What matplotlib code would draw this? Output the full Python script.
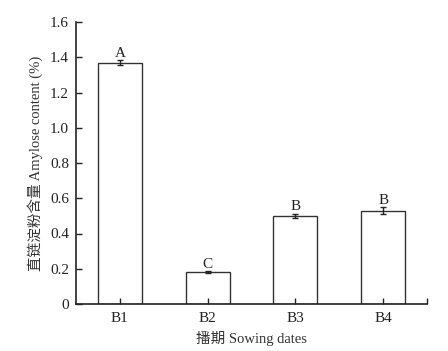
import matplotlib
matplotlib.use("Agg")
import matplotlib.pyplot as plt

categories = ["B1", "B2", "B3", "B4"]
values = [1.37, 0.18, 0.50, 0.53]
errors = [0.012, 0.006, 0.012, 0.018]
letters = ["A", "C", "B", "B"]
yticks = [0, 0.2, 0.4, 0.6, 0.8, 1.0, 1.2, 1.4, 1.6]
ytick_labels = ["0", "0.2", "0.4", "0.6", "0.8", "1.0", "1.2", "1.4", "1.6"]

plt.rcParams['font.family'] = ['Liberation Serif', 'Noto Sans CJK SC']
plt.rcParams['font.size'] = 10

fig = plt.figure(figsize=(4.48, 3.51), dpi=100)
ax = fig.add_axes([76/448, 47/351, 351/448, 282/351])

x = list(range(len(categories)))
ax.bar(x, values, width=0.5, color="white", edgecolor="#333333", linewidth=1.0,
       yerr=errors, capsize=2.5, error_kw=dict(ecolor="#222222", elinewidth=1.0, capthick=1.0))
for xi, v, e, t in zip(x, values, errors, letters):
    ax.text(xi, v + e + 0.004, t, ha="center", va="bottom", fontsize=11, color="#222222")

ax.set_xlim(-0.5, 3.5)
ax.set_ylim(0, 1.6)
ax.set_xticks(x + [3.5])
ax.set_xticklabels(categories + [""])
ax.set_yticks(yticks)
ax.set_yticklabels(ytick_labels)
ax.tick_params(direction="in", length=4, width=1, colors="#222222", labelsize=11)
ax.tick_params(axis="x", pad=6)
ax.tick_params(axis="y", pad=5)
for s in ["top", "right"]:
    ax.spines[s].set_visible(False)
for s in ["left", "bottom"]:
    ax.spines[s].set_linewidth(1.2)
    ax.spines[s].set_color("#222222")

ax.set_xlabel("播期 Sowing dates", fontsize=10.5, labelpad=4, color="#333333")
ax.set_ylabel("直链淀粉含量 Amylose content (%)", fontsize=10.5, labelpad=5, color="#333333")

fig.savefig("out.png", dpi=100)
